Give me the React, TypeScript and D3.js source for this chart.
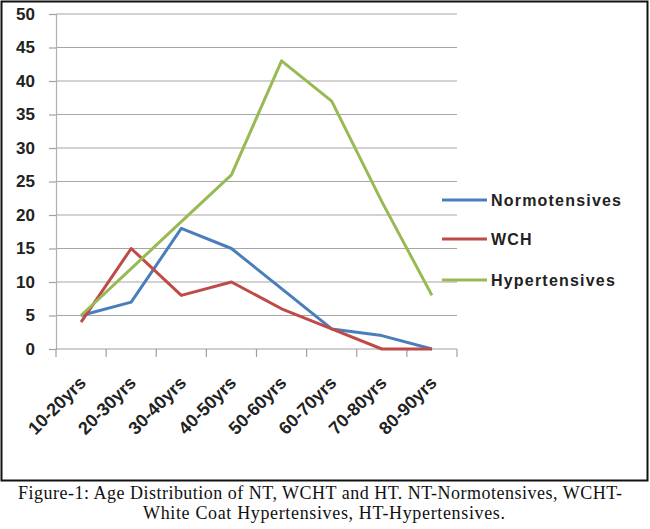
import { useEffect, useRef } from 'react';
import * as d3 from 'd3';

const ageGroups = ['10-20yrs', '20-30yrs', '30-40yrs', '40-50yrs', '50-60yrs', '60-70yrs', '70-80yrs', '80-90yrs'];
const normotensives = [5, 7, 18, 15, 9, 3, 2, 0];
const wch = [4, 15, 8, 10, 6, 3, 0, 0];
const hypertensives = [5, 12, 19, 26, 43, 37, 22, 8];
const yTicks = [0, 5, 10, 15, 20, 25, 30, 35, 40, 45, 50];

const seriesList = [
  { name: 'Normotensives', values: normotensives, color: '#4a7ebb' },
  { name: 'WCH', values: wch, color: '#be4b48' },
  { name: 'Hypertensives', values: hypertensives, color: '#98b954' },
];

const captionLines = [
  'Figure-1: Age Distribution of NT, WCHT and HT. NT-Normotensives, WCHT-',
  'White Coat Hypertensives, HT-Hypertensives.',
];

export default function App() {
  const svgRef = useRef<SVGSVGElement>(null);

  useEffect(() => {
    if (!svgRef.current) return;
    const svg = d3.select(svgRef.current);
    svg.selectAll('*').remove();

    const width = 650;
    const height = 529;
    const plot = { left: 56, right: 457, top: 14, bottom: 349 };
    const sans = '"Liberation Sans", Arial, sans-serif';

    svg.append('rect').attr('width', width).attr('height', height).attr('fill', '#fff');

    // frame around the chart
    svg.append('rect')
      .attr('x', 1.5).attr('y', 1.5)
      .attr('width', 646).attr('height', 479)
      .attr('fill', 'none').attr('stroke', '#111').attr('stroke-width', 2);

    const x = d3.scaleBand().domain(ageGroups).range([plot.left, plot.right]);
    const y = d3.scaleLinear().domain([0, 50]).range([plot.bottom, plot.top]);

    // gridlines
    svg.append('g')
      .selectAll('line')
      .data(yTicks.filter((t) => t > 0))
      .join('line')
      .attr('x1', plot.left).attr('x2', plot.right)
      .attr('y1', (d) => y(d)).attr('y2', (d) => y(d))
      .attr('stroke', '#a6a6a6').attr('stroke-width', 1.2);

    // y axis
    const yAxis = svg.append('g')
      .attr('transform', `translate(${plot.left},0)`)
      .call(d3.axisLeft(y).tickValues(yTicks).tickSize(7).tickPadding(14));
    yAxis.select('.domain').attr('stroke', '#b0b0b0').attr('stroke-width', 1.2);
    yAxis.selectAll('.tick line').attr('stroke', '#a0a0a0').attr('stroke-width', 1.2);
    yAxis.selectAll('text')
      .attr('font-family', sans)
      .attr('font-size', 17)
      .attr('font-weight', 'bold')
      .attr('fill', '#222');

    // x axis line and boundary ticks
    const xg = svg.append('g');
    xg.append('line')
      .attr('x1', plot.left).attr('x2', plot.right)
      .attr('y1', plot.bottom).attr('y2', plot.bottom)
      .attr('stroke', '#a0a0a0').attr('stroke-width', 1.2);
    const bounds = ageGroups.map((g) => x(g) as number).concat([plot.right]);
    xg.selectAll('line.tk')
      .data(bounds)
      .join('line')
      .attr('class', 'tk')
      .attr('x1', (d) => d).attr('x2', (d) => d)
      .attr('y1', plot.bottom).attr('y2', plot.bottom + 8)
      .attr('stroke', '#a0a0a0').attr('stroke-width', 1.2);
    xg.selectAll('text')
      .data(ageGroups)
      .join('text')
      .attr('transform', (d) => `translate(${(x(d) as number) + x.bandwidth() / 2 + 6},${plot.bottom + 35}) rotate(-45)`)
      .attr('text-anchor', 'end')
      .attr('font-family', sans)
      .attr('font-size', 18)
      .attr('font-weight', 'bold')
      .attr('fill', '#222')
      .text((d) => d);

    // series lines
    const line = d3.line<number>()
      .x((_d, i) => (x(ageGroups[i]) as number) + x.bandwidth() / 2)
      .y((d) => y(d));
    seriesList.forEach((s) => {
      svg.append('path')
        .datum(s.values)
        .attr('d', line)
        .attr('fill', 'none')
        .attr('stroke', s.color)
        .attr('stroke-width', 3)
        .attr('stroke-linejoin', 'round');
    });

    // legend
    const legendY = [200, 239, 280];
    const lg = svg.append('g');
    seriesList.forEach((s, i) => {
      lg.append('line')
        .attr('x1', 442).attr('x2', 487)
        .attr('y1', legendY[i]).attr('y2', legendY[i])
        .attr('stroke', s.color).attr('stroke-width', 3);
      lg.append('text')
        .attr('x', 491).attr('y', legendY[i] + 6)
        .attr('font-family', sans)
        .attr('font-size', 16)
        .attr('font-weight', 'bold')
        .attr('letter-spacing', 1.2)
        .attr('fill', '#222')
        .text(s.name);
    });

    // caption
    const capLayout = [
      { cx: 320, y: 499, len: 604 },
      { cx: 324, y: 519, len: 362 },
    ];
    svg.append('g')
      .selectAll('text')
      .data(captionLines)
      .join('text')
      .attr('x', (_d, i) => capLayout[i].cx)
      .attr('y', (_d, i) => capLayout[i].y)
      .attr('text-anchor', 'middle')
      .attr('textLength', (_d, i) => capLayout[i].len)
      .attr('lengthAdjust', 'spacing')
      .attr('font-family', '"Liberation Serif", "Times New Roman", serif')
      .attr('font-size', 18)
      .attr('fill', '#111')
      .text((d) => d);
  }, []);

  return (
    <svg
      ref={svgRef}
      width={650}
      height={529}
      style={{ position: 'absolute', left: 0, top: 0 }}
    />
  );
}
